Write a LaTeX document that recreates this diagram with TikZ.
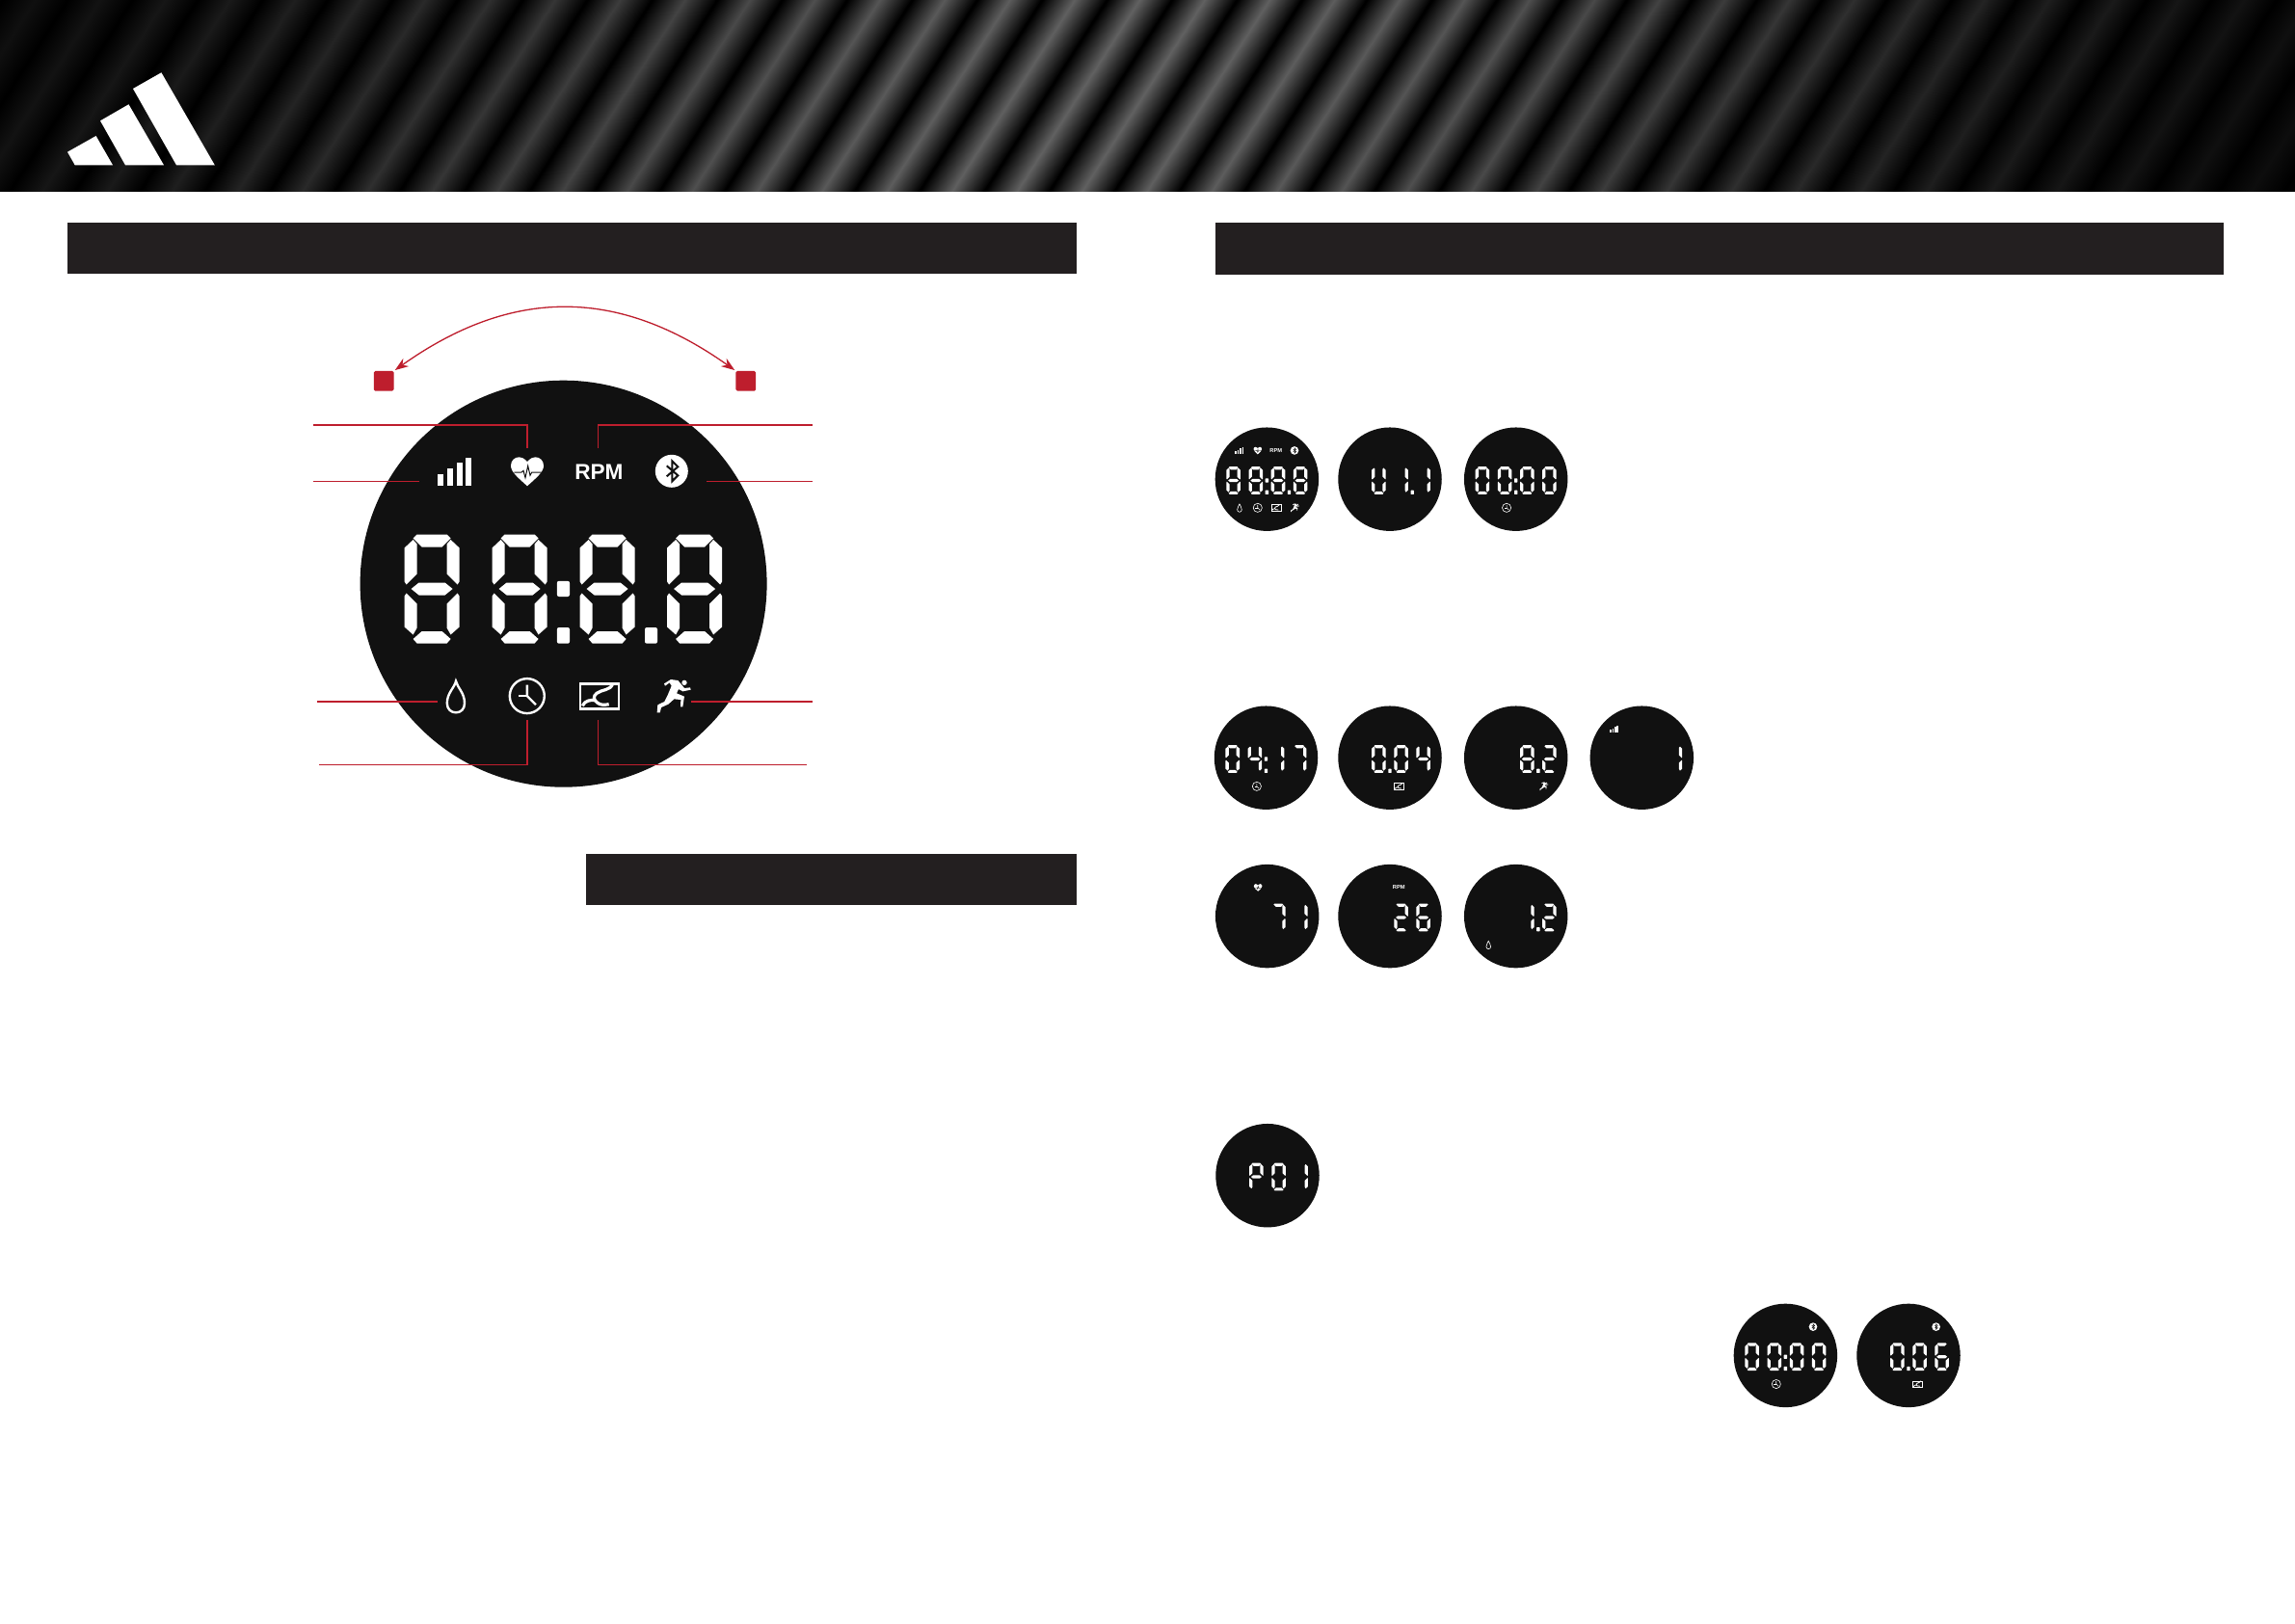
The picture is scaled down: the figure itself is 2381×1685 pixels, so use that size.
\documentclass[tikz,border=0pt]{standalone}
\usepackage{fontspec}
\setmainfont{Liberation Sans}
\usetikzlibrary{arrows.meta}
\definecolor{barcol}{HTML}{231F20}
\definecolor{facecol}{HTML}{111111}
\definecolor{redcol}{HTML}{BE1E2D}
\tikzset{
  lcdw/.style={fill=white,draw=none},
  lcdface/.style={circle,fill=facecol,draw=none,inner sep=0pt,outer sep=0pt},
  darkbar/.style={fill=barcol,draw=none},
  redline/.style={draw=redcol,line width=1.8pt},
  redthin/.style={draw=redcol,line width=1.3pt},
  redarc/.style={draw=redcol,line width=1.3pt,shorten <=1.5pt,shorten >=1.5pt,{Stealth[length=14pt,width=10pt]}-{Stealth[length=14pt,width=10pt]}},
  redsq/.style={fill=redcol,draw=none,rounded corners=1.5pt,minimum size=20.7pt,inner sep=0pt,outer sep=0pt},
  iconline/.style={draw=white,line width=\lcds*2.4pt},
  roadline/.style={draw=white,line width=\lcds*3.2pt},
  darkline/.style={draw=facecol,line width=\lcds*#1pt}
}
% seven-segment pieces, in the coordinates of a 57 x 113 digit
\def\sega{\fill[lcdw] (13,0)--(44,0)--(48,4)--(39,13)--(18,13)--(9,4)--cycle;}
\def\segb{\fill[lcdw] (57,14)--(48,5.5)--(44,10)--(44,41)--(55,52)--(57,49)--cycle;}
\def\segc{\fill[lcdw] (57,64)--(55,61)--(44,72)--(44,97)--(48,104)--(57,96)--cycle;}
\def\segd{\fill[lcdw] (18,100.5)--(39,100.5)--(48,108.5)--(44,113)--(13,113)--(9,108.5)--cycle;}
\def\sege{\fill[lcdw] (0,64)--(2,61)--(13,72)--(13,97)--(9,104)--(0,96)--cycle;}
\def\segf{\fill[lcdw] (0,14)--(9,5.5)--(13,10)--(13,41)--(2,52)--(0,49)--cycle;}
\def\segg{\fill[lcdw] (7,56.5)--(15,50)--(42,50)--(50,56.5)--(42,63)--(15,63)--cycle;}
\def\Dzero{a,b,c,d,e,f}
\def\Done{b,c}
\def\Dtwo{a,b,g,e,d}
\def\Dfour{f,g,b,c}
\def\Dsix{a,f,g,e,d,c}
\def\Dseven{a,b,c}
\def\Deight{a,b,c,d,e,f,g}
\def\DP{a,b,f,g,e}
\def\DU{f,e,d,c,b}
\def\SlotA{-165}\def\SlotB{-74}\def\SlotC{17}\def\SlotD{107.5}
\newcommand\dg[2]{\begin{scope}[shift={(#1,-51.2)}]\foreach \s in #2 {\csname seg\s\endcsname}\end{scope}}
\newcommand\dotcolon{\fill[lcdw,rounded corners=\lcds*2pt] (-6.7,-2.9) rectangle (6.4,13.3);\dotlow}
\newcommand\dotlow{\fill[lcdw,rounded corners=\lcds*2pt] (-6.7,45.3) rectangle (6.4,62);}
\newcommand\dotdec{\fill[lcdw,rounded corners=\lcds*2pt] (84.4,45.3) rectangle (97.4,62);}
% icons
\newcommand\icSignal{\fill[lcdw] (-130.7,-113.7) rectangle (-124.6,-101.9);
  \fill[lcdw] (-120.7,-119.5) rectangle (-114.6,-101.9);
  \fill[lcdw] (-111,-125.4) rectangle (-105,-101.9);
  \fill[lcdw] (-101.7,-130.5) rectangle (-95.7,-101.9);}
\newcommand\icHeart{\fill[lcdw] (-37.6,-126.5) .. controls (-41,-130.5) and (-44,-131.4) .. (-46,-131.4)
   .. controls (-51,-131.4) and (-54.6,-127.5) .. (-54.6,-122.5)
   .. controls (-54.6,-116) and (-47,-110) .. (-37.6,-101.4)
   .. controls (-28.2,-110) and (-20.6,-116) .. (-20.6,-122.5)
   .. controls (-20.6,-127.5) and (-24.2,-131.4) .. (-29.2,-131.4)
   .. controls (-31.2,-131.4) and (-34.2,-130.5) .. (-37.6,-126.5) -- cycle;
  \draw[darkline=1] (-51.3,-115.7)--(-43.6,-115.7)--(-41.6,-117.4)--(-39.6,-110)--(-36.9,-122.4)--(-34.6,-112.4)--(-32.9,-115.7)--(-22.9,-115.7);}
\newcommand\icRPM{\node[transform shape,inner sep=0pt,text=white,font=\fontsize{22.6}{22.6}\selectfont\bfseries] (rpm-\lcdn) at (36.8,-116.2) {RPM};}
\newcommand\icBT{\fill[lcdw] (112.2,-116.9) circle[radius=17];
  \draw[darkline=2] (107.1,-122.4)--(118.7,-112.4)--(112.7,-106.4)--(112.7,-127.4)--(118.7,-121.4)--(107.1,-111.4);}
\newcommand\icDrop{\draw[iconline] (-111.6,101) .. controls (-110,108) and (-102.6,113) .. (-102.6,124)
   .. controls (-102.6,130) and (-106.5,133.6) .. (-111.6,133.6)
   .. controls (-116.7,133.6) and (-120.8,130) .. (-120.8,124)
   .. controls (-120.8,113) and (-113,108) .. (-111.6,101) -- cycle;}
\newcommand\icClock{\draw[iconline] (-37.8,116.4) circle[radius=18];
  \draw[iconline] (-37.8,105)--(-37.8,116.4)--(-28.6,125.5);
  \draw[iconline] (-37.8,116.4)--(-47,116.4);}
\newcommand\icDist{\draw[iconline] (17.5,103.7) rectangle (57.2,129.8);
  \begin{scope}[shift={(10.4,94.3)},scale=.3333]
  \draw[roadline] (122,28) .. controls (115,50) and (90,45) .. (72,58) .. controls (60,68) and (62,78) .. (75,88) .. controls (85,95) and (95,95) .. (110,92);
  \draw[roadline] (28,97) .. controls (35,80) and (55,78) .. (66,80);
  \end{scope}}
\newcommand\icRun{\begin{scope}[shift={(95.4,94.3)},scale=.3333]
  \fill[lcdw] (27,28)--(48,15)--(70,18)--(82,32)--(90,42)--(108,40)--(110,47)--(85,52)--(72,45)--(66,58)--(90,68)--(88,80)--(85,100)--(78,100)--(79,78)--(58,76)--(40,92)--(18,102)--(14,118)--(5,118)--(7,94)--(28,84)--(38,64)--(50,35)--(44,25)--(30,35)--cycle;
  \fill[lcdw] (90,25) circle[radius=8];
  \end{scope}}
% #1 name, #2 x, #3 y, #4 scale, #5 content
\newcommand\lcd[5]{\def\lcdn{#1}\def\lcds{#4}%
  \pgfmathsetmacro\lcdd{422*#4}%
  \node[lcdface,minimum size=\lcdd pt] (#1) at (#2,#3) {};
  \begin{scope}[shift={(#2,#3)},scale=#4]#5\end{scope}}
\begin{document}
\begin{tikzpicture}[x=1pt,y=-1pt]
\useasboundingbox (0,0) rectangle (2381,1685);
\fill[white] (0,0) rectangle (2381,1685);
% header band
\begin{scope}
  \clip (0,0) rectangle (2381,199);
  \fill[black] (0,0) rectangle (2381,199);
  \foreach \k in {-28,...,10}{
    \pgfmathsetmacro\xx{1792+\k*67.4}
    \pgfmathsetmacro\g{0.02+0.36*exp(-((\xx-1150)/800)^2)}
    \definecolor{sg}{gray}{\g}
    \begin{scope}[transform canvas={shift={(\xx,100)},xslant=0.64}]
      \shade[left color=black,right color=black,middle color=sg] (-33,-112) rectangle (33,112);
    \end{scope}
  }
\end{scope}
% logo
\fill[white] (70,157.7)--(99.6,141)--(117,171.3)--(77.7,171.3)--cycle;
\fill[white] (104,125.3)--(133.5,108.3)--(170,171.3)--(130,171.3)--cycle;
\fill[white] (138,92)--(167.4,75.3)--(222.8,171.3)--(183,171.3)--cycle;
% section bars
\fill[darkbar] (70,230.8) rectangle (1117,284);
\fill[darkbar] (1260.5,230.8) rectangle (2306.6,285);
\fill[darkbar] (608,886) rectangle (1117,939);
% main display
\lcd{main}{584.6}{605.7}{1}{\dg{\SlotA}{\Deight}\dg{\SlotB}{\Deight}\dg{\SlotC}{\Deight}\dg{\SlotD}{\Deight}\dotcolon\dotdec
  \icSignal\icHeart\icRPM\icBT\icDrop\icClock\icDist\icRun}
% buttons and arc
\node[redsq] (sqL) at (398.2,395.3) {};
\node[redsq] (sqR) at (773.8,395.3) {};
\draw[redarc] (sqL.north east) .. controls (531,298) and (641,298) .. (sqR.north west);
% callouts
\coordinate (tHeart) at (546.8,464.8); \coordinate (lHeart) at (325,440.7);
\coordinate (tRpm) at (620.4,464.8);   \coordinate (lRpm) at (842.9,440.7);
\coordinate (tSig) at (435,499.3);     \coordinate (lSig) at (325,499.3);
\coordinate (tBt) at (732.9,499.3);    \coordinate (lBt) at (842.9,499.3);
\coordinate (tDrop) at (453.9,727.6);  \coordinate (lDrop) at (328.9,727.6);
\coordinate (tRun) at (717,727.6);     \coordinate (lRun) at (842.9,727.6);
\coordinate (tClock) at (546.8,746.9); \coordinate (lClock) at (331,793.4);
\coordinate (tDist) at (620.4,746.9);  \coordinate (lDist) at (837,793.4);
\draw[redline] (lHeart) -| (tHeart);
\draw[redline] (tRpm) |- (lRpm);
\draw[redthin] (lSig) -- (tSig);
\draw[redthin] (tBt) -- (lBt);
\draw[redline] (lDrop) -- (tDrop);
\draw[redline] (tRun) -- (lRun);
\draw[redline] (lClock) -| (tClock);
\draw[redline] (tDist) |- (lDist);
% small displays
\def\sm{0.2547}
\lcd{a1}{1314.4}{497.2}{\sm}{\dg{\SlotA}{\Deight}\dg{\SlotB}{\Deight}\dg{\SlotC}{\Deight}\dg{\SlotD}{\Deight}\dotcolon\dotdec
  \icSignal\icHeart\icRPM\icBT\icDrop\icClock\icDist\icRun}
\lcd{a2}{1442}{497.2}{\sm}{\dg{\SlotB}{\DU}\dg{\SlotC}{\Done}\dg{\SlotD}{\Done}\dotdec}
\lcd{a3}{1572.7}{497.2}{\sm}{\dg{\SlotA}{\Dzero}\dg{\SlotB}{\Dzero}\dg{\SlotC}{\Dzero}\dg{\SlotD}{\Dzero}\dotcolon\icClock}
\lcd{b1}{1313.5}{786.2}{\sm}{\dg{\SlotA}{\Dzero}\dg{\SlotB}{\Dfour}\dg{\SlotC}{\Done}\dg{\SlotD}{\Dseven}\dotcolon\icClock}
\lcd{b2}{1442}{786.2}{\sm}{\dg{\SlotB}{\Dzero}\dg{\SlotC}{\Dzero}\dg{\SlotD}{\Dfour}\dotlow\icDist}
\lcd{b3}{1572.7}{786.2}{\sm}{\dg{\SlotC}{\Deight}\dg{\SlotD}{\Dtwo}\dotdec\icRun}
\lcd{b4}{1703.3}{786.2}{\sm}{\dg{\SlotD}{\Done}\icSignal}
\lcd{c1}{1314.7}{950.6}{\sm}{\dg{\SlotC}{\Dseven}\dg{\SlotD}{\Done}\icHeart}
\lcd{c2}{1442}{950.6}{\sm}{\dg{\SlotC}{\Dtwo}\dg{\SlotD}{\Dsix}\icRPM}
\lcd{c3}{1572.7}{950.6}{\sm}{\dg{\SlotC}{\Done}\dg{\SlotD}{\Dtwo}\dotdec\icDrop}
\lcd{d1}{1315}{1219.7}{\sm}{\dg{\SlotB}{\DP}\dg{\SlotC}{\Dzero}\dg{\SlotD}{\Done}}
\lcd{e1}{1852.4}{1406.4}{\sm}{\dg{\SlotA}{\Dzero}\dg{\SlotB}{\Dzero}\dg{\SlotC}{\Dzero}\dg{\SlotD}{\Dzero}\dotcolon\icClock\icBT}
\lcd{e2}{1980}{1406.4}{\sm}{\dg{\SlotB}{\Dzero}\dg{\SlotC}{\Dzero}\dg{\SlotD}{\Dsix}\dotlow\icBT\icDist}
\end{tikzpicture}
\end{document}
